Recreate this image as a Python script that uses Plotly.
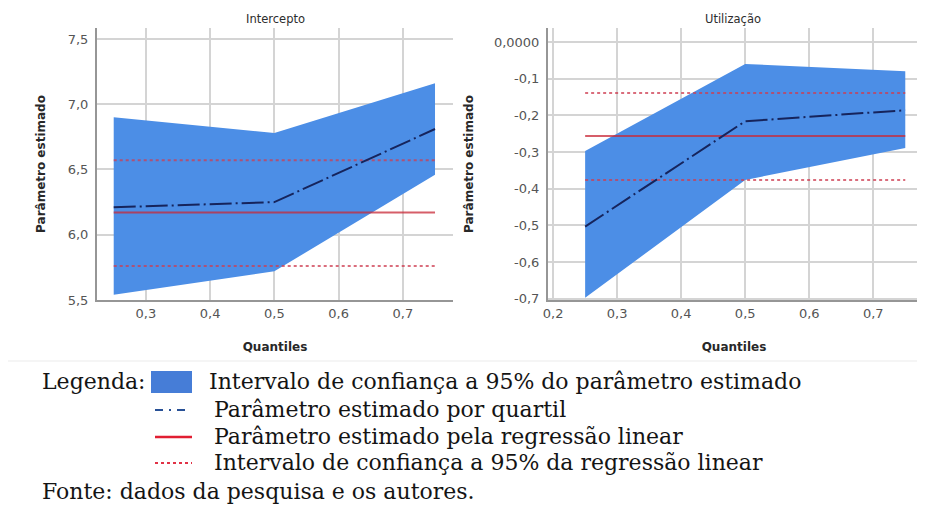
import plotly.graph_objects as go

# ---------------- data ----------------
quantiles = [0.25, 0.5, 0.75]
lr_x = [0.25, 0.75]

# Intercepto
int_upper = [6.90, 6.78, 7.16]
int_lower = [5.54, 5.72, 6.46]
int_est = [6.21, 6.25, 6.81]
int_lr = 6.17
int_lr_ci = [5.76, 6.57]

# Utilização
uti_upper = [-0.297, -0.060, -0.080]
uti_lower = [-0.697, -0.376, -0.289]
uti_est = [-0.503, -0.216, -0.186]
uti_lr = -0.256
uti_lr_ci = [-0.376, -0.139]

int_ticks = [5.5, 6.0, 6.5, 7.0, 7.5]
int_ticktext = ["5,5", "6,0", "6,5", "7,0", "7,5"]
uti_ticks = [-0.7, -0.6, -0.5, -0.4, -0.3, -0.2, -0.1, 0.0]
uti_ticktext = ["-0,7", "-0,6", "-0,5", "-0,4", "-0,3", "-0,2", "-0,1", "0,0000"]
int_xticks = [0.3, 0.4, 0.5, 0.6, 0.7]
int_xticktext = ["0,3", "0,4", "0,5", "0,6", "0,7"]
uti_xticks = [0.2, 0.3, 0.4, 0.5, 0.6, 0.7]
uti_xticktext = ["0,2", "0,3", "0,4", "0,5", "0,6", "0,7"]

titles = ["Intercepto", "Utilização"]
legend_items = [
    "Intervalo de confiança a 95% do parâmetro estimado",
    "Parâmetro estimado por quartil",
    "Parâmetro estimado pela regressão linear",
    "Intervalo de confiança a 95% da regressão linear",
]
legend_label = "Legenda:"
source_text = "Fonte: dados da pesquisa e os autores."

# ---------------- style ----------------
FILL = "rgb(76,142,230)"
EST = "rgb(22,36,92)"
LR = "rgba(200,40,55,0.75)"
LRCI = "rgba(205,60,80,0.75)"
GRID = "rgb(212,212,212)"
AXIS = "rgb(150,150,150)"
TICKFONT = dict(family="DejaVu Sans", size=13, color="rgb(85,85,85)")
TITLEFONT = dict(family="DejaVu Sans", size=12, color="rgb(40,40,40)")

# page body has an 8px margin: work in screenshot pixels and shift
OFF = 8
W, H = 917, 508


def px(x):
    return (x - OFF) / W


def py(y):
    return 1 - (y - OFF) / H


fig = go.Figure()


def add_panel(xa, ya, upper, lower, est, lr, lr_ci):
    xs = quantiles + quantiles[::-1]
    ys = upper + lower[::-1]
    fig.add_trace(go.Scatter(x=xs, y=ys, fill="toself", fillcolor=FILL,
                             line=dict(width=0, color=FILL), mode="lines",
                             xaxis=xa, yaxis=ya, showlegend=False, hoverinfo="skip"))
    for v in lr_ci:
        fig.add_trace(go.Scatter(x=lr_x, y=[v, v], mode="lines",
                                 line=dict(color=LRCI, width=2, dash="dot"),
                                 xaxis=xa, yaxis=ya, showlegend=False))
    fig.add_trace(go.Scatter(x=lr_x, y=[lr, lr], mode="lines",
                             line=dict(color=LR, width=2),
                             xaxis=xa, yaxis=ya, showlegend=False))
    fig.add_trace(go.Scatter(x=quantiles, y=est, mode="lines",
                             line=dict(color=EST, width=2, dash="22px,4px,2px,4px"),
                             xaxis=xa, yaxis=ya, showlegend=False))


add_panel("x", "y", int_upper, int_lower, int_est, int_lr, int_lr_ci)
add_panel("x2", "y2", uti_upper, uti_lower, uti_est, uti_lr, uti_lr_ci)

ydom = [py(300), py(28)]

common_x = dict(showgrid=True, gridcolor=GRID, gridwidth=1.5, showline=True,
                linecolor=AXIS, linewidth=2, ticks="", tickfont=TICKFONT, automargin=False,
                zeroline=False, title=dict(text="<b>Quantiles</b>", font=TITLEFONT, standoff=23))
common_y = dict(showgrid=True, gridcolor=GRID, gridwidth=1.5, showline=True,
                linecolor=AXIS, linewidth=2, ticks="", tickfont=TICKFONT, automargin=False,
                ticklabelstandoff=4, zeroline=False)

fig.update_layout(
    width=W, height=H,
    margin=dict(l=0, r=0, t=0, b=0, autoexpand=False),
    paper_bgcolor="white", plot_bgcolor="white",
    showlegend=False,
    xaxis=dict(domain=[px(97), px(453)], range=[0.224, 0.778], tickvals=int_xticks,
               ticktext=int_xticktext, anchor="y", **common_x),
    yaxis=dict(domain=ydom, range=[5.5, 7.584], tickvals=int_ticks,
               ticktext=int_ticktext, anchor="x",
               title=dict(text="<b>Parâmetro estimado</b>", font=TITLEFONT, standoff=20),
               **common_y),
    xaxis2=dict(domain=[px(548), px(920)], range=[0.192, 0.773], tickvals=uti_xticks,
                ticktext=uti_xticktext, anchor="y2", **common_x),
    yaxis2=dict(domain=ydom, range=[-0.703, 0.038], tickvals=uti_ticks,
                ticktext=uti_ticktext, anchor="x2",
                title=dict(text="<b>Parâmetro estimado</b>", font=TITLEFONT, standoff=18),
                **common_y),
)

annotations = []
TFONT = dict(family="DejaVu Sans", size=11.5, color="rgb(45,45,45)")
annotations.append(dict(text=titles[0], x=px(275), y=py(19), xref="paper", yref="paper",
                        xanchor="center", yanchor="middle", showarrow=False, font=TFONT))
annotations.append(dict(text=titles[1], x=px(733), y=py(19), xref="paper", yref="paper",
                        xanchor="center", yanchor="middle", showarrow=False, font=TFONT))

SERIF = dict(family="DejaVu Serif", size=22, color="rgb(20,20,20)")
annotations.append(dict(text=legend_label, x=px(40), y=py(381), xref="paper", yref="paper",
                        xanchor="left", yanchor="middle", showarrow=False, font=SERIF))
text_x = [207, 212, 212, 212]
rows_y = [381, 409, 436, 462]
for t, tx, ry in zip(legend_items, text_x, rows_y):
    annotations.append(dict(text=t, x=px(tx), y=py(ry), xref="paper", yref="paper",
                            xanchor="left", yanchor="middle", showarrow=False, font=SERIF))
annotations.append(dict(text=source_text, x=px(40), y=py(491), xref="paper", yref="paper",
                        xanchor="left", yanchor="middle", showarrow=False, font=SERIF))
fig.update_layout(annotations=annotations)

shapes = [
    dict(type="rect", xref="paper", yref="paper", x0=px(151), x1=px(192),
         y0=py(393), y1=py(371), fillcolor="rgb(70,125,215)", line=dict(width=0)),
    dict(type="line", xref="paper", yref="paper", x0=px(155), x1=px(190),
         y0=py(410), y1=py(410), line=dict(color="rgb(40,80,150)", width=2, dash="8px,6px,2px,6px")),
    dict(type="line", xref="paper", yref="paper", x0=px(155), x1=px(192),
         y0=py(437), y1=py(437), line=dict(color="rgb(225,30,50)", width=2.5)),
    dict(type="line", xref="paper", yref="paper", x0=px(155), x1=px(192),
         y0=py(463), y1=py(463), line=dict(color="rgb(225,50,70)", width=2, dash="dot")),
    dict(type="line", xref="paper", yref="paper", x0=0, x1=1,
         y0=py(361), y1=py(361), line=dict(color="rgb(235,235,235)", width=1)),
]
fig.update_layout(shapes=shapes)

fig.write_html("out.html")
